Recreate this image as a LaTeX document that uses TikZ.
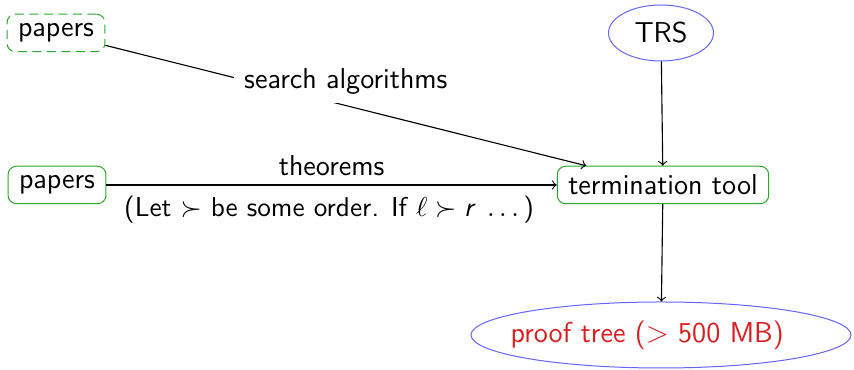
\documentclass[tikz,border=0pt]{standalone}
\usetikzlibrary{shapes.geometric}
\definecolor{boxgreen}{RGB}{40,170,40}
\definecolor{ellblue}{RGB}{100,100,255}
\definecolor{prred}{RGB}{220,30,30}
\begin{document}
\begin{tikzpicture}[x=0.4pt,y=-0.4pt,
  font=\fontsize{11.5}{14}\selectfont\sffamily,
  greenbox/.style={draw=boxgreen, rounded corners=3.4pt, inner xsep=4.4pt, inner ysep=0pt, minimum height=15pt},
  blueell/.style={draw=ellblue, ellipse, inner sep=0pt},
  conn/.style={->, line width=0.45pt}]
  \useasboundingbox (0,0) rectangle (854,370);

  \node[greenbox, dash pattern=on 3.6pt off 2.2pt] (pa) at (56,33) {papers};
  \node[greenbox] (pb) at (57,185) {papers};
  \node[greenbox] (tt) at (663,185) {termination tool};
  \node[blueell, minimum width=42pt, minimum height=22.4pt] (trs) at (661,33) {TRS};
  \node[blueell, minimum width=152pt, minimum height=26.4pt, text=prred] (pt) at (661,335)
    {\makebox[90pt][c]{\hspace*{-11pt}proof tree ($>$ 500 MB)}};

  \draw[conn] (pa) -- node[midway, fill=white, yshift=9.6pt, inner xsep=4pt] {search algorithms} (tt);
  \draw[conn] (pb) -- node[midway, above] {theorems}
    node[midway, below, font=\fontsize{10.9}{13}\selectfont\sffamily, xshift=-1pt, yshift=-1pt]
      {(Let $\succ$ be some order. If $\ell \succ \textit{r}$\enspace$\ldots$\,)} (tt);
  \draw[conn] (trs) -- (tt);
  \draw[conn] (tt) -- (pt);
\end{tikzpicture}
\end{document}
